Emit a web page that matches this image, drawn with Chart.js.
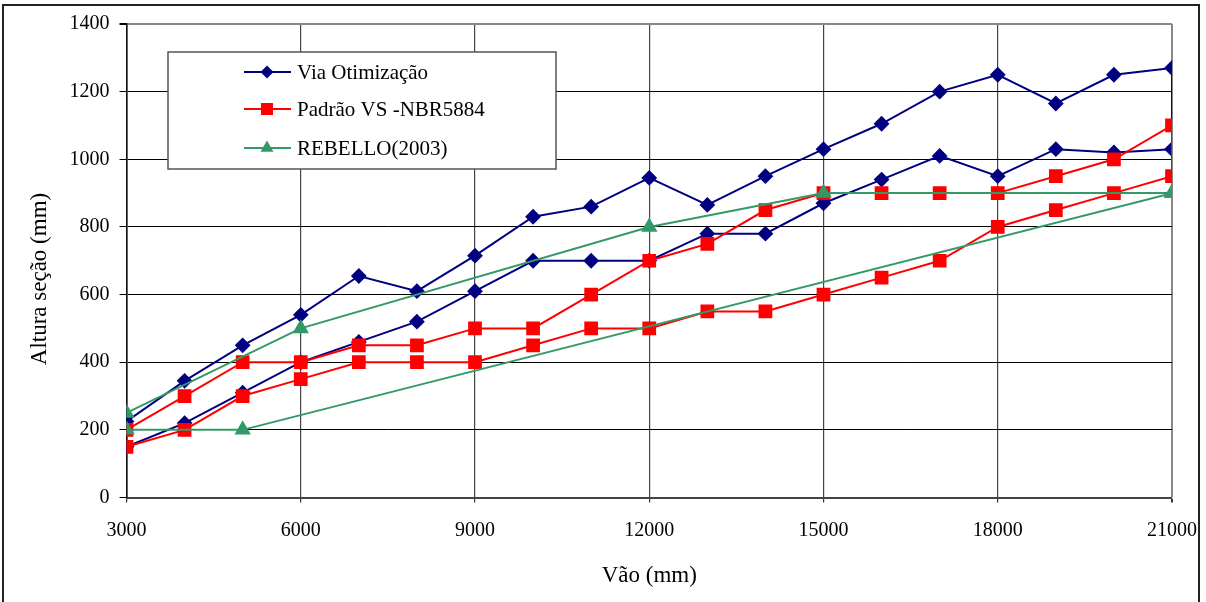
<!DOCTYPE html>
<html>
<head>
<meta charset="utf-8">
<script src="https://cdn.jsdelivr.net/npm/chart.js"></script>
<style>
  body { margin: 0; background: #fff; }
  canvas { display: block; }
</style>
</head>
<body>
<canvas id="grafico" width="1206" height="602"></canvas>
<script>
// vãos (mm)
const vaos = [3000, 4000, 5000, 6000, 7000, 8000, 9000, 10000, 11000, 12000, 13000, 14000, 15000, 16000, 17000, 18000, 19000, 20000, 21000];

// Via Otimização - limite superior e inferior
const viaSup = [225, 345, 450, 540, 655, 610, 715, 830, 860, 945, 865, 950, 1030, 1105, 1200, 1250, 1165, 1250, 1270];
const viaInf = [150, 220, 310, 400, 460, 520, 610, 700, 700, 700, 780, 780, 870, 940, 1010, 950, 1030, 1020, 1030];

// Padrão VS -NBR5884
const padraoSup = [200, 300, 400, 400, 450, 450, 500, 500, 600, 700, 750, 850, 900, 900, 900, 900, 950, 1000, 1100];
const padraoInf = [150, 200, 300, 350, 400, 400, 400, 450, 500, 500, 550, 550, 600, 650, 700, 800, 850, 900, 950];

// REBELLO(2003)
const rebelloSupX = [3000, 6000, 12000, 15000, 21000];
const rebelloSupY = [250, 500, 800, 900, 900];
const rebelloInfX = [3000, 5000, 21000];
const rebelloInfY = [200, 200, 900];

const xTicks = [3000, 6000, 9000, 12000, 15000, 18000, 21000];
const yTicks = [0, 200, 400, 600, 800, 1000, 1200, 1400];

// monta a faixa: sobe pelo superior e volta pelo inferior
function faixa(xs, sup, xsInf, inf) {
    let pts = [];
    for (let i = 0; i < xs.length; i++) pts.push({x: xs[i], y: sup[i]});
    for (let i = xsInf.length - 1; i >= 0; i--) pts.push({x: xsInf[i], y: inf[i]});
    return pts;
}

const fonte = "'Liberation Serif', 'Times New Roman', serif";

function marcador(ctx, tipo, x, y, cor) {
    ctx.fillStyle = cor;
    ctx.beginPath();
    if (tipo === 'rectRot') {
        ctx.moveTo(x - 6.5, y); ctx.lineTo(x, y - 6.5); ctx.lineTo(x + 6.5, y); ctx.lineTo(x, y + 6.5);
    } else if (tipo === 'rect') {
        ctx.rect(x - 6, y - 6, 12, 12);
    } else {
        ctx.moveTo(x, y - 7.5); ctx.lineTo(x + 6.5, y + 3.8); ctx.lineTo(x - 6.5, y + 3.8);
    }
    ctx.closePath();
    ctx.fill();
}

// legenda dentro do grafico, titulo do eixo y e moldura externa
const legendaPlugin = {
    id: 'legendaCaixa',
    afterDraw(chart) {
        const ctx = chart.ctx;
        ctx.save();
        // moldura
        ctx.strokeStyle = '#222';
        ctx.lineWidth = 2;
        ctx.beginPath();
        ctx.moveTo(3, 610); ctx.lineTo(3, 5); ctx.lineTo(1199, 5); ctx.lineTo(1199, 610);
        ctx.stroke();

        // titulo do eixo y
        ctx.save();
        ctx.translate(40, 279);
        ctx.rotate(-Math.PI / 2);
        ctx.font = '23px ' + fonte;
        ctx.fillStyle = '#000';
        ctx.textAlign = 'center';
        ctx.textBaseline = 'middle';
        ctx.fillText('Altura seção (mm)', 0, 0);
        ctx.restore();

        // caixa da legenda
        ctx.fillStyle = '#fff';
        ctx.fillRect(168, 52, 388, 117);
        ctx.strokeStyle = '#555';
        ctx.lineWidth = 1.5;
        ctx.strokeRect(168, 52, 388, 117);

        const linhas = [72, 109, 148];
        ctx.font = '21px ' + fonte;
        ctx.textBaseline = 'middle';
        chart.data.datasets.forEach(function(ds, k) {
            const y = linhas[k];
            ctx.strokeStyle = ds.borderColor;
            ctx.lineWidth = 2;
            ctx.beginPath();
            ctx.moveTo(244, y); ctx.lineTo(291, y);
            ctx.stroke();
            marcador(ctx, ds.pointStyle, 267, y, ds.pointBackgroundColor);
            ctx.fillStyle = '#000';
            ctx.fillText(ds.label, 297, y + 1);
        });
        ctx.restore();
    }
};

let ctxGrafico = document.getElementById('grafico').getContext('2d');

let grafico = new Chart(ctxGrafico, {
    type: 'line',
    data: {
        datasets: [{
            label: 'Via Otimização',
            data: faixa(vaos, viaSup, vaos, viaInf),
            borderColor: '#000080',
            backgroundColor: '#000080',
            pointBackgroundColor: '#000080',
            pointBorderColor: '#000080',
            pointStyle: 'rectRot',
            pointRadius: 6.5,
            borderWidth: 2,
            order: 3
        }, {
            label: 'Padrão VS -NBR5884',
            data: faixa(vaos, padraoSup, vaos, padraoInf),
            borderColor: '#ff0000',
            backgroundColor: '#ff0000',
            pointBackgroundColor: '#ff0000',
            pointBorderColor: '#ff0000',
            pointStyle: 'rect',
            pointRadius: 8.3,
            borderWidth: 2,
            order: 2
        }, {
            label: 'REBELLO(2003)',
            data: faixa(rebelloSupX, rebelloSupY, rebelloInfX, rebelloInfY),
            borderColor: '#339966',
            backgroundColor: '#339966',
            pointBackgroundColor: '#339966',
            pointBorderColor: '#339966',
            pointStyle: 'triangle',
            pointRadius: 7.5,
            borderWidth: 2,
            order: 1
        }]
    },
    options: {
        responsive: false,
        animation: false,
        devicePixelRatio: 1,
        layout: {
            padding: { left: 0, right: 34, top: 24, bottom: 0 }
        },
        elements: {
            line: { tension: 0, fill: false },
            point: { borderWidth: 0, hoverRadius: 6 }
        },
        plugins: {
            legend: { display: false },
            tooltip: { enabled: false }
        },
        scales: {
            x: {
                type: 'linear',
                min: 3000,
                max: 21000,
                afterBuildTicks: function(scale) {
                    scale.ticks = xTicks.map(v => ({value: v}));
                },
                afterFit: function(scale) {
                    scale.height = 104.5;
                    scale.paddingLeft = 0;
                    scale.paddingRight = 0;
                },
                ticks: {
                    color: '#000',
                    font: { family: fonte, size: 20 },
                    padding: 16,
                    maxRotation: 0,
                    autoSkip: false,
                    callback: function(v) { return String(v); }
                },
                grid: {
                    color: function(c) { return c.tick && c.tick.value === 21000 ? '#888' : '#444'; },
                    lineWidth: function(c) { return c.tick && c.tick.value === 21000 ? 2 : 1.2; },
                    tickLength: 5,
                    tickColor: '#333'
                },
                border: { color: '#444', width: 2 },
                title: {
                    display: true,
                    text: 'Vão (mm)',
                    color: '#000',
                    font: { family: fonte, size: 23 },
                    padding: { top: 0, bottom: 12 }
                }
            },
            y: {
                min: 0,
                max: 1400,
                afterBuildTicks: function(scale) {
                    scale.ticks = yTicks.map(v => ({value: v}));
                },
                afterFit: function(scale) {
                    scale.width = 126.5;
                    scale.paddingTop = 0;
                    scale.paddingBottom = 0;
                },
                ticks: {
                    color: '#000',
                    font: { family: fonte, size: 20 },
                    padding: 10,
                    callback: function(v) { return String(v); }
                },
                grid: {
                    color: function(c) { return c.tick && c.tick.value === 1400 ? '#888' : '#000'; },
                    lineWidth: function(c) { return c.tick && c.tick.value === 1400 ? 2 : 1; },
                    tickLength: 7,
                    tickColor: '#000'
                },
                border: { color: '#111', width: 1.6 }
            }
        }
    },
    plugins: [legendaPlugin]
});
</script>
</body>
</html>
